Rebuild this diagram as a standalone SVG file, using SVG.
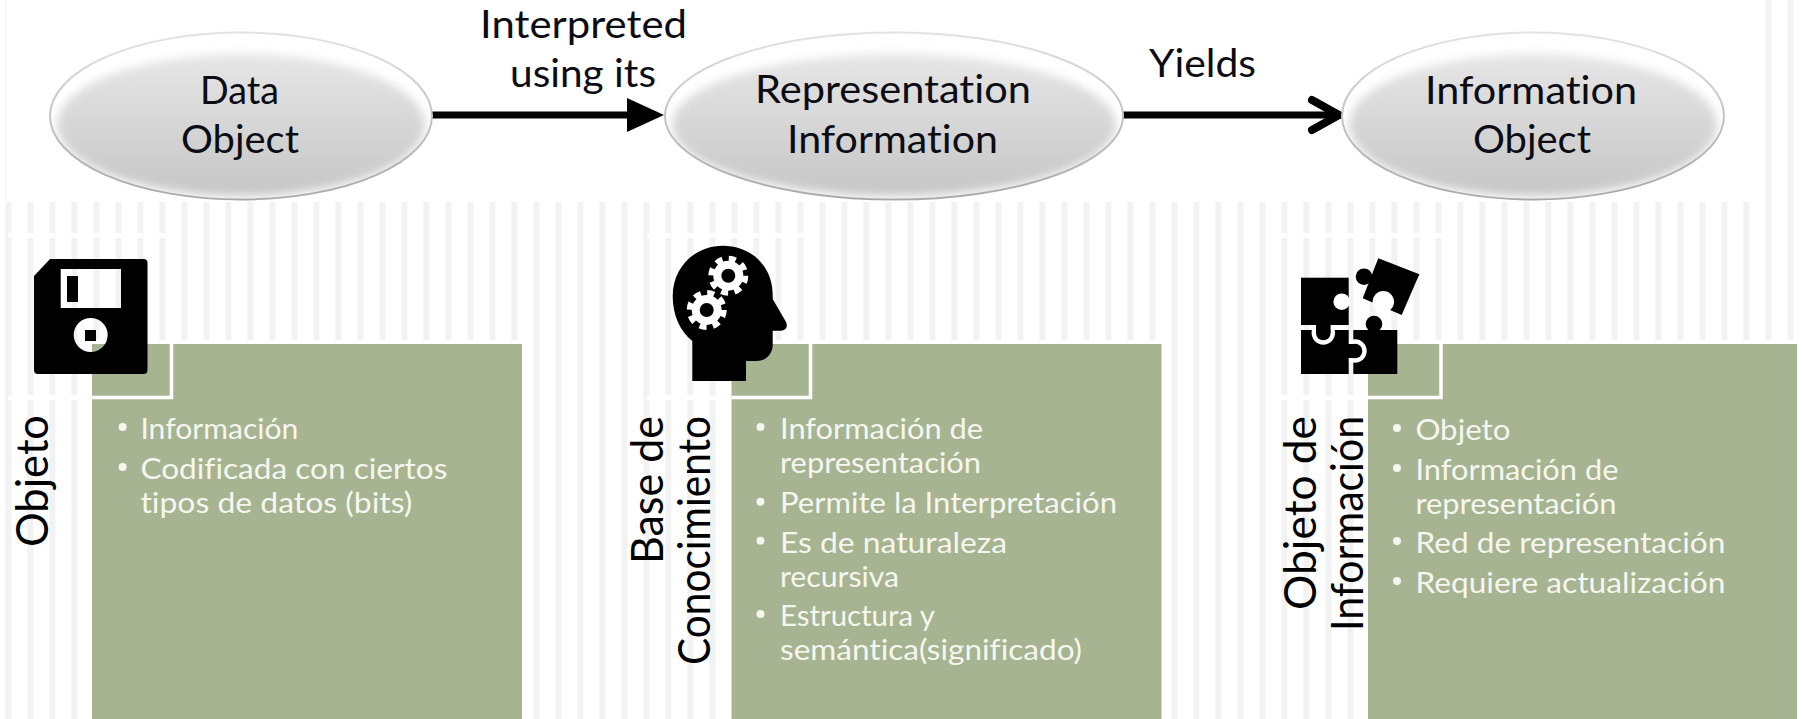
<svg xmlns="http://www.w3.org/2000/svg" width="1803" height="719" viewBox="0 0 1803 719">
<style>
text{font-variant-ligatures:none}
.up{font-family:Lato,"Liberation Sans",sans-serif;font-size:39px;fill:#0c0c14}
.side{font-family:Lato,"Open Sans",sans-serif;font-size:44px;fill:#000}
.li{font-family:Lato,"Open Sans",sans-serif;font-size:29px;fill:#f6f6f0}
.dot{fill:#f6f6f0}
.box{fill:#a6b491}
.tab{fill:none;stroke:#fff;stroke-width:3.5}
.gap{fill:#fff}
.rim{fill:#fff;stroke:url(#rim);stroke-width:2}
.conn{fill:none;stroke:#000;stroke-width:7}
</style>
<defs>
<pattern id="st" x="5.4" y="0" width="22" height="10" patternUnits="userSpaceOnUse"><rect width="6" height="10" fill="#f2f2f2"/></pattern>
<linearGradient id="rim" x1="0" y1="0" x2="0" y2="1"><stop offset="0" stop-color="#e2e2e2"/><stop offset=".5" stop-color="#c4c4c4"/><stop offset="1" stop-color="#a8a8a8"/></linearGradient>
<linearGradient id="gr" x1="0" y1="0" x2="0" y2="1"><stop offset="0" stop-color="#e6e6e6"/><stop offset="1" stop-color="#c6c6c6"/></linearGradient>
<filter id="soft" x="-10%" y="-15%" width="120%" height="130%"><feGaussianBlur stdDeviation="5"/></filter>
<marker id="tri" markerUnits="userSpaceOnUse" markerWidth="40" markerHeight="36" refX="2" refY="18" orient="auto"><path d="M0 1L37 18L0 35Z" fill="#000"/></marker>
<marker id="chev" markerUnits="userSpaceOnUse" markerWidth="44" markerHeight="44" refX="33" refY="22" orient="auto"><path d="M4 7L31 22L4 37" fill="none" stroke="#000" stroke-width="8" stroke-linecap="round" stroke-linejoin="miter"/></marker>
<g id="gear"><circle r="15" fill="#fff"/><circle r="17" fill="none" stroke="#fff" stroke-width="6" stroke-dasharray="7 6.35"/><circle r="7" fill="#000"/></g>
<clipPath id="c1"><ellipse cx="241" cy="116" rx="190" ry="83"/></clipPath>
<clipPath id="c2"><ellipse cx="894" cy="116" rx="228" ry="83"/></clipPath>
<clipPath id="c3"><ellipse cx="1533" cy="116" rx="190" ry="83"/></clipPath>
</defs>
<rect width="1803" height="719" fill="#fff"/>
<g id="background">
<rect x="5" y="0" width="1.2" height="202" fill="#f2f2f2"/>
<rect x="5.4" y="202" width="1750" height="517" fill="url(#st)"/>
<rect x="1765.4" y="0" width="6" height="340" fill="#f2f2f2"/>
<rect x="1787.4" y="0" width="6" height="340" fill="#f2f2f2"/>
<rect class="gap" x="8" y="233" width="157" height="5"/>
<rect class="gap" x="8" y="395" width="157" height="5"/>
<rect class="gap" x="647" y="233" width="157" height="5"/>
<rect class="gap" x="647" y="395" width="157" height="5"/>
<rect class="gap" x="1281" y="233" width="160" height="5"/>
<rect class="gap" x="1281" y="395" width="160" height="5"/>
<rect class="gap" x="88" y="340" width="438" height="379"/>
<rect class="gap" x="727.500" y="340" width="438" height="379"/>
<rect class="gap" x="1364" y="340" width="439" height="379"/>
</g>
<g id="connectors">
<line class="conn" x1="432" y1="115" x2="629" y2="115" marker-end="url(#tri)"/>
<line class="conn" x1="1123" y1="115" x2="1341" y2="115" marker-end="url(#chev)"/>
<text class="up" x="480" y="38" textLength="207" lengthAdjust="spacingAndGlyphs">Interpreted</text>
<text class="up" x="510" y="87" textLength="146" lengthAdjust="spacingAndGlyphs">using its</text>
<text class="up" x="1149" y="77" textLength="107" lengthAdjust="spacingAndGlyphs">Yields</text>
</g>
<g id="node-data-object">
<ellipse class="rim" cx="241" cy="116" rx="191" ry="83.5"/>
<g clip-path="url(#c1)"><ellipse cx="241" cy="125" rx="184" ry="71" fill="url(#gr)" filter="url(#soft)"/></g>
<text class="up" x="200" y="104" textLength="79" lengthAdjust="spacingAndGlyphs">Data</text>
<text class="up" x="181" y="153" textLength="118" lengthAdjust="spacingAndGlyphs">Object</text>
</g>
<g id="node-representation-information">
<ellipse class="rim" cx="894" cy="116" rx="229" ry="83.5"/>
<g clip-path="url(#c2)"><ellipse cx="894" cy="125" rx="222" ry="71" fill="url(#gr)" filter="url(#soft)"/></g>
<text class="up" x="755" y="103" textLength="276" lengthAdjust="spacingAndGlyphs">Representation</text>
<text class="up" x="787" y="153" textLength="211" lengthAdjust="spacingAndGlyphs">Information</text>
</g>
<g id="node-information-object">
<ellipse class="rim" cx="1533" cy="116" rx="191" ry="83.5"/>
<g clip-path="url(#c3)"><ellipse cx="1533" cy="125" rx="184" ry="71" fill="url(#gr)" filter="url(#soft)"/></g>
<text class="up" x="1425" y="104" textLength="212" lengthAdjust="spacingAndGlyphs">Information</text>
<text class="up" x="1473" y="153" textLength="118" lengthAdjust="spacingAndGlyphs">Object</text>
</g>
<g id="panel-objeto">
<rect class="box" x="92" y="344" width="430" height="375"/>
<path class="tab" d="M171.5 340V397.5H92"/>
<text class="side" transform="translate(47.5 547) rotate(-90)" textLength="132" lengthAdjust="spacingAndGlyphs">Objeto</text>
<circle class="dot" cx="122.6" cy="427" r="4"/><circle class="dot" cx="122.6" cy="467" r="4"/>
<text class="li" x="140.4" y="439" textLength="158" lengthAdjust="spacingAndGlyphs">Información</text>
<text class="li" x="140.4" y="479" textLength="307" lengthAdjust="spacingAndGlyphs">Codificada con ciertos</text>
<text class="li" x="140.4" y="513" textLength="272" lengthAdjust="spacingAndGlyphs">tipos de datos (bits)</text>
<path fill="#000" fill-rule="evenodd" d="M50 259H143.500Q147.500 259 147.500 263V370Q147.500 374 143.500 374H38Q34 374 34 370V276ZM60.700 269V308H121V269ZM67 276H78V302H67ZM73.700 335A17 17 0 1 0 107.700 335A17 17 0 1 0 73.700 335ZM85 330H96V341H85Z"/>
</g>
<g id="panel-base-de-conocimiento">
<rect class="box" x="731.500" y="344" width="430" height="375"/>
<path class="tab" d="M810.500 340V397.500H731.500"/>
<text class="side" transform="translate(662.500 564) rotate(-90)" textLength="148" lengthAdjust="spacingAndGlyphs">Base de</text>
<text class="side" transform="translate(709.500 665) rotate(-90)" textLength="249" lengthAdjust="spacingAndGlyphs">Conocimiento</text>
<circle class="dot" cx="760.500" cy="427" r="4"/><circle class="dot" cx="760.500" cy="501.700" r="4"/><circle class="dot" cx="760.500" cy="540.700" r="4"/><circle class="dot" cx="760.500" cy="614" r="4"/>
<text class="li" x="780" y="439" textLength="203" lengthAdjust="spacingAndGlyphs">Información de</text>
<text class="li" x="780" y="473" textLength="201" lengthAdjust="spacingAndGlyphs">representación</text>
<text class="li" x="780" y="513" textLength="337" lengthAdjust="spacingAndGlyphs">Permite la Interpretación</text>
<text class="li" x="780" y="553" textLength="227" lengthAdjust="spacingAndGlyphs">Es de naturaleza</text>
<text class="li" x="780" y="587" textLength="119" lengthAdjust="spacingAndGlyphs">recursiva</text>
<text class="li" x="780" y="626" textLength="155" lengthAdjust="spacingAndGlyphs">Estructura y</text>
<text class="li" x="780" y="660" textLength="302" lengthAdjust="spacingAndGlyphs">semántica(significado)</text>
<path fill="#000" d="M692.300 381V341C680 331 672.700 315 672.700 296C672.700 267 695 245.700 723 245.700C751 245.700 772.700 266 772.700 295V299L786 322C788.500 327 785 330.700 781 330.700H772.700V345C772.700 354 765.700 361 756.700 361H746V381Z"/>
<use href="#gear" x="728.300" y="275.700"/>
<use href="#gear" x="706.700" y="310"/>
</g>
<g id="panel-objeto-de-informacion">
<rect class="box" x="1368" y="344" width="429" height="375"/>
<path class="tab" d="M1441 340V397.500H1368"/>
<text class="side" transform="translate(1316 610) rotate(-90)" textLength="194" lengthAdjust="spacingAndGlyphs">Objeto de</text>
<text class="side" transform="translate(1362.700 631) rotate(-90)" textLength="215" lengthAdjust="spacingAndGlyphs">Información</text>
<circle class="dot" cx="1397" cy="428" r="4"/><circle class="dot" cx="1397" cy="468" r="4"/><circle class="dot" cx="1397" cy="541" r="4"/><circle class="dot" cx="1397" cy="581" r="4"/>
<text class="li" x="1415.400" y="440" textLength="95" lengthAdjust="spacingAndGlyphs">Objeto</text>
<text class="li" x="1415.400" y="480" textLength="203" lengthAdjust="spacingAndGlyphs">Información de</text>
<text class="li" x="1415.400" y="514" textLength="201" lengthAdjust="spacingAndGlyphs">representación</text>
<text class="li" x="1415.400" y="553" textLength="310" lengthAdjust="spacingAndGlyphs">Red de representación</text>
<text class="li" x="1415.400" y="593" textLength="310" lengthAdjust="spacingAndGlyphs">Requiere actualización</text>
<path fill="#000" d="M1378.300 258.300L1419.300 274.300L1401.700 315L1362.700 298.300Z"/>
<circle cx="1364" cy="276.700" r="8.300" fill="#000"/>
<circle cx="1383.300" cy="301.700" r="10.700" fill="#fff"/>
<rect x="1353.300" y="330" width="44" height="44" fill="#000"/>
<circle cx="1374" cy="324" r="8.300" fill="#000"/>
<circle cx="1355" cy="351" r="11.700" fill="#fff"/>
<rect x="1301" y="330" width="47.700" height="44" fill="#000"/>
<circle cx="1323.300" cy="333" r="11.700" fill="#fff"/>
<rect x="1301" y="277.700" width="47.700" height="47.300" fill="#000"/>
<circle cx="1341.700" cy="301.700" r="8.300" fill="#fff"/>
<rect x="1316" y="324" width="14.600" height="9" fill="#000"/>
<circle cx="1323.300" cy="333" r="7.300" fill="#000"/>
<rect x="1348" y="344" width="7" height="14" fill="#000"/>
<circle cx="1355" cy="351" r="7.300" fill="#000"/>
</g>
</svg>
